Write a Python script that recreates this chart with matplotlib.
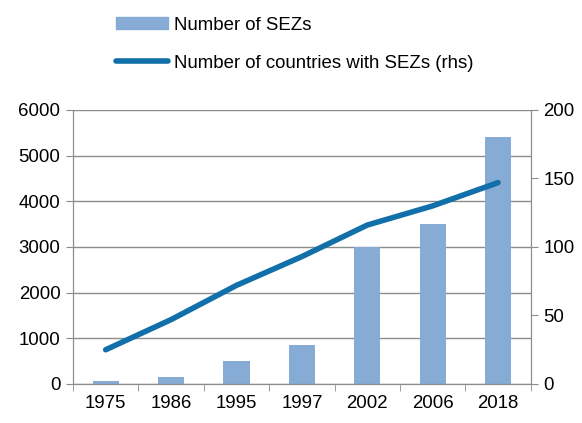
import matplotlib.pyplot as plt
import numpy as np
from matplotlib.patches import Patch
from matplotlib.lines import Line2D

plt.rcParams['font.family'] = ['Liberation Sans', 'DejaVu Sans']

# data
years = ['1975', '1986', '1995', '1997', '2002', '2006', '2018']
sez_count = [65, 160, 500, 845, 3000, 3500, 5400]
countries = [25, 47, 72, 93, 116, 130, 147]

bar_color = '#86abd4'
line_color = '#1170aa'
grid_color = '#8c8c8c'
fs = 13.4

fig = plt.figure(figsize=(5.82, 4.23), dpi=100)
ax = fig.add_axes([0.1254, 0.0922, 0.7866, 0.6478])
x = np.arange(len(years))

ax.bar(x, sez_count, width=0.4, color=bar_color, zorder=2)
ax.set_ylim(0, 6000)
ax.set_yticks(range(0, 6001, 1000))
ax.set_xlim(-0.5, len(years) - 0.5)
ax.set_xticks(x)
ax.set_xticklabels(years)
ax.set_xticks(np.arange(-0.5, len(years), 1), minor=True)
ax.tick_params(axis='x', which='major', length=0, pad=8, labelsize=fs)
ax.tick_params(axis='x', which='minor', length=5, color=grid_color)
ax.tick_params(axis='y', length=5, color=grid_color, labelsize=fs, pad=4)
ax.yaxis.grid(True, color=grid_color, lw=1, zorder=0)
ax.set_axisbelow(True)

ax2 = ax.twinx()
ax2.plot(x, countries, color=line_color, lw=4, solid_capstyle='round', zorder=3)
ax2.set_ylim(0, 200)
ax2.set_yticks(range(0, 201, 50))
ax2.tick_params(axis='y', length=5, color=grid_color, labelsize=fs, pad=4)

for a in (ax, ax2):
    a.spines['top'].set_visible(False)
    for s in ('left', 'right', 'bottom'):
        a.spines[s].set_color(grid_color)

handles = [Patch(color=bar_color),
           Line2D([0], [0], color=line_color, lw=4, solid_capstyle='round')]
labels = ['Number of SEZs', 'Number of countries with SEZs (rhs)']
fig.legend(handles, labels, loc='upper left', bbox_to_anchor=(0.171, 1.0),
           frameon=False, fontsize=fs, handlelength=2.8, handleheight=0.6,
           handletextpad=0.3, labelspacing=1.12)

fig.savefig('out.png', dpi=100)
